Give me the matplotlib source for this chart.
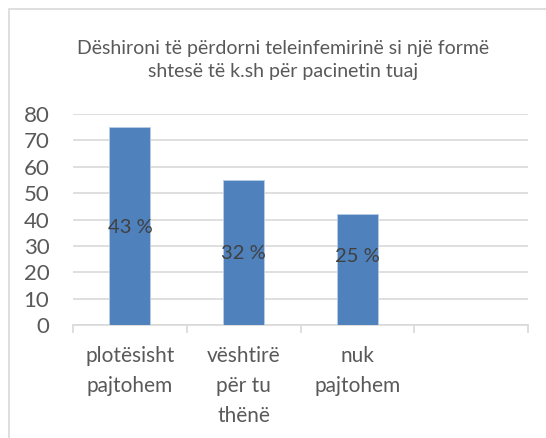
import matplotlib.pyplot as plt
from matplotlib.patches import Rectangle

# data
categories = ["plotësisht\npajtohem", "vështirë\npër tu\nthënë", "nuk\npajtohem", ""]
values = [75, 55, 42]
labels = ["43 %", "32 %", "25 %"]
title = "Dëshironi të përdorni teleinfemirinë si një formë\nshtesë të k.sh për pacinetin tuaj"

plt.rcParams['font.family'] = ['Lato', 'DejaVu Sans']

fig = plt.figure(figsize=(5.46, 4.38), dpi=100)
ax = fig.add_axes([73 / 546, 1 - 325 / 438, (528 - 73) / 546, (325 - 114) / 438])

# chart border
fig.patches.append(Rectangle((9 / 546, -0.1), 1.2, 1 - 9 / 438 + 0.1,
                             transform=fig.transFigure, fill=False,
                             edgecolor="#D9D9D9", linewidth=1.2))

x = list(range(len(values)))
ax.bar(x, values, width=0.36, color="#4F81BD", edgecolor="#B9CDE5", linewidth=0.6, zorder=3)

# data labels (positions as placed in the original)
label_y = [37, 27, 26]
for xi, lab, ly in zip(x, labels, label_y):
    ax.text(xi, ly, lab, ha="center", va="center", fontsize=14.5, color="#404040", zorder=4)

ax.set_xlim(-0.5, 3.5)
ax.set_ylim(0, 80)
ax.set_yticks(range(0, 81, 10))
ax.yaxis.grid(True, color="#D9D9D9", linewidth=1.2)
ax.set_axisbelow(True)

ax.set_xticks(range(len(categories)))
ax.set_xticklabels(categories, fontsize=15, color="#595959", linespacing=1.62)
ax.set_xticks([-0.5, 0.5, 1.5, 2.5, 3.5], minor=True)
ax.tick_params(axis="x", which="major", length=0, pad=15)
ax.tick_params(axis="x", which="minor", length=6, color="#D9D9D9", width=1.2)
ax.tick_params(axis="y", length=0, pad=17, labelsize=16, labelcolor="#595959")

for s in ["top", "right", "left"]:
    ax.spines[s].set_visible(False)
ax.spines["bottom"].set_color("#D9D9D9")
ax.spines["bottom"].set_linewidth(1.2)

fig.text(283 / 546, 1 - 60 / 438, title, ha="center", va="center",
         fontsize=14, color="#595959", linespacing=1.38)

fig.savefig("out.png", dpi=100)
